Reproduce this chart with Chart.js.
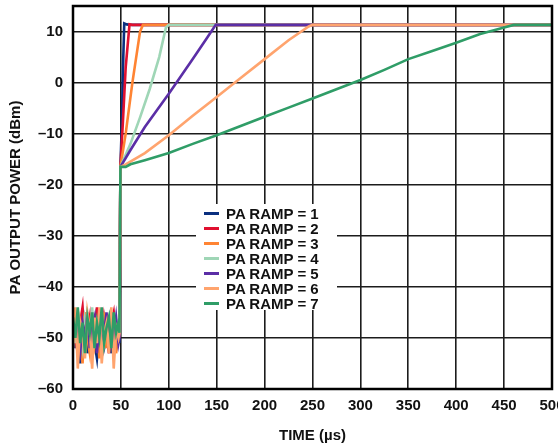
<!DOCTYPE html>
<html lang="en">
<head>
    <meta charset="UTF-8">
    <title>PA output power vs time</title>
    <script src="https://cdn.jsdelivr.net/npm/chart.js@4.4.0/dist/chart.umd.min.js"></script>
    <style>
        body {
            margin: 0;
            background: #fff;
        }

        #wrap {
            position: relative;
            width: 558px;
            height: 443px;
        }

        /* legend sits inside the plot, white box hides the grid behind it */
        #legend {
            position: absolute;
            left: 196px;
            top: 204px;
            width: 141px;
            height: 106px;
            background: #fff;
            font-family: "Liberation Sans", Arial, sans-serif;
            font-weight: bold;
            font-size: 15px;
            color: #111;
        }

        #legend .item {
            position: absolute;
            left: 0;
            height: 15px;
            line-height: 15px;
            white-space: nowrap;
        }

        #legend .swatch {
            position: absolute;
            left: 8px;
            top: 6px;
            width: 15px;
            height: 3.5px;
        }

        #legend .label {
            position: absolute;
            left: 30px;
            top: 0;
        }
    </style>
</head>

<body>
    <div id="wrap">
        <canvas id="myChart" width="558" height="443"></canvas>
        <div id="legend"></div>
    </div>
    <script>
        // noise floor before the PA turns on (time in µs, power in dBm)
        const noiseTime = [0, 2.5, 5, 7.5, 10, 12.5, 15, 17.5, 20, 22.5, 25, 27.5, 30, 32.5, 35, 37.5, 40, 42.5, 45, 47.5, 48.5];

        const ramp1Noise = [-48, -52, -46, -55, -50, -47, -53, -49, -45, -51, -54, -48, -46, -52, -50, -47, -53, -49, -51, -50, -51];
        const ramp2Noise = [-45, -50, -53, -47, -44, -51, -49, -46, -53, -48, -44, -50, -52, -46, -49, -53, -47, -45, -50, -48, -50];
        const ramp3Noise = [-50, -46, -52, -48, -55, -45, -50, -53, -47, -51, -46, -54, -49, -45, -52, -48, -50, -47, -53, -49, -50];
        const ramp4Noise = [-47, -51, -45, -49, -52, -46, -48, -50, -44, -52, -47, -49, -45, -51, -48, -46, -50, -47, -49, -48, -49];
        const ramp5Noise = [-49, -46, -51, -53, -47, -50, -45, -52, -48, -46, -53, -47, -51, -49, -45, -52, -48, -50, -46, -51, -50];
        const ramp6Noise = [-52, -44, -56, -47, -50, -54, -45, -48, -56, -46, -51, -44, -55, -49, -47, -53, -44, -56, -48, -50, -49];
        const ramp7Noise = [-46, -50, -44, -51, -47, -53, -46, -49, -45, -52, -47, -50, -44, -51, -48, -46, -52, -45, -49, -47, -49];

        // ramp-up part of each trace
        const ramp1Time = [49.5, 51, 52.5, 53.5, 56, 60, 500];
        const ramp1Power = [-16.5, -8, 5, 11.6, 11.4, 11.3, 11.3];

        const ramp2Time = [49.5, 52, 55, 59, 62, 500];
        const ramp2Power = [-16.5, -8, 3, 11.4, 11.3, 11.3];

        const ramp3Time = [49.5, 55, 62, 70, 73, 500];
        const ramp3Power = [-16.5, -10, 0, 10, 11.3, 11.3];

        const ramp4Time = [49.5, 60, 70, 80, 90, 97, 100, 500];
        const ramp4Power = [-16.5, -12, -6.8, -1.3, 5, 10.8, 11.3, 11.3];

        const ramp5Time = [49.5, 60, 75, 100, 125, 140, 149, 500];
        const ramp5Power = [-16.5, -13.2, -8.7, -2.2, 4.6, 8.8, 11.3, 11.3];

        const ramp6Time = [49.5, 55, 75, 100, 125, 150, 175, 200, 225, 246, 250, 500];
        const ramp6Power = [-16.5, -16, -13.8, -10.3, -6.5, -2.8, 0.9, 4.6, 8.3, 11, 11.3, 11.3];

        const ramp7Time = [49.5, 55, 60, 75, 100, 125, 150, 175, 200, 225, 250, 275, 300, 325, 350, 375, 400, 425, 450, 460, 500];
        const ramp7Power = [-16.5, -16.5, -16, -15.2, -13.8, -12, -10.3, -8.5, -6.7, -4.9, -3.1, -1.3, 0.5, 2.5, 4.6, 6.2, 7.8, 9.5, 10.8, 11.3, 11.3];

        const seriesLabels = ['PA RAMP = 1', 'PA RAMP = 2', 'PA RAMP = 3', 'PA RAMP = 4', 'PA RAMP = 5', 'PA RAMP = 6', 'PA RAMP = 7'];
        const seriesColors = ['#0a2f7f', '#e0102f', '#ff8433', '#9fd6b6', '#5b2ea6', '#ffa46e', '#2f9d67'];

        const xTicks = [0, 50, 100, 150, 200, 250, 300, 350, 400, 450, 500];
        const yTicks = [-60, -50, -40, -30, -20, -10, 0, 10];

        const noiseSets = [ramp1Noise, ramp2Noise, ramp3Noise, ramp4Noise, ramp5Noise, ramp6Noise, ramp7Noise];
        const rampTimes = [ramp1Time, ramp2Time, ramp3Time, ramp4Time, ramp5Time, ramp6Time, ramp7Time];
        const rampPowers = [ramp1Power, ramp2Power, ramp3Power, ramp4Power, ramp5Power, ramp6Power, ramp7Power];

        function buildPoints(i) {
            let pts = noiseTime.map((t, k) => ({ x: t, y: noiseSets[i][k] }));
            rampTimes[i].forEach((t, k) => pts.push({ x: t, y: rampPowers[i][k] }));
            return pts;
        }

        const datasets = seriesLabels.map((label, i) => ({
            label: label,
            data: buildPoints(i),
            borderColor: seriesColors[i],
            backgroundColor: seriesColors[i],
            borderWidth: 2.6,
            pointRadius: 0,
            tension: 0,
            // ramp 7 is painted last (on top)
            order: 6 - i
        }));

        const fontFamily = '"Liberation Sans", Arial, sans-serif';
        const minusSign = v => String(v).replace('-', '\u2013');

        // thick black frame round the plot area
        const framePlugin = {
            id: 'frame',
            afterDraw(chart) {
                const { ctx, chartArea: a } = chart;
                ctx.save();
                ctx.strokeStyle = '#000';
                ctx.lineWidth = 2.5;
                ctx.strokeRect(a.left, a.top, a.right - a.left, a.bottom - a.top);
                ctx.restore();
            }
        };

        var ctx = document.getElementById('myChart').getContext('2d');
        var myChart = new Chart(ctx, {
            type: 'line',
            data: { datasets: datasets },
            plugins: [framePlugin],
            options: {
                responsive: false,
                animation: false,
                layout: { padding: { top: 6, right: 6, left: 0, bottom: 0 } },
                plugins: {
                    legend: { display: false },
                    tooltip: { enabled: false }
                },
                scales: {
                    x: {
                        type: 'linear',
                        min: 0,
                        max: 500,
                        afterBuildTicks: scale => { scale.ticks = xTicks.map(v => ({ value: v })); },
                        afterFit: scale => {
                            scale.height = 54;
                            scale.paddingLeft = 0;
                            scale.paddingRight = 0;
                        },
                        grid: { color: '#1c1c1c', lineWidth: 1.6, drawTicks: false },
                        border: { display: false },
                        ticks: {
                            padding: 8,
                            maxRotation: 0,
                            color: '#111',
                            font: { family: fontFamily, size: 15, weight: 'bold' }
                        },
                        title: {
                            display: true,
                            text: 'TIME (µs)',
                            color: '#111',
                            padding: { top: 0, bottom: 0 },
                            font: { family: fontFamily, size: 15, weight: 'bold', lineHeight: 1 }
                        }
                    },
                    y: {
                        type: 'linear',
                        min: -60,
                        max: 15,
                        afterBuildTicks: scale => { scale.ticks = yTicks.map(v => ({ value: v })); },
                        afterFit: scale => {
                            scale.width = 73;
                            scale.paddingTop = 0;
                            scale.paddingBottom = 0;
                        },
                        grid: { color: '#1c1c1c', lineWidth: 1.6, drawTicks: false },
                        border: { display: false },
                        ticks: {
                            padding: 10,
                            color: '#111',
                            font: { family: fontFamily, size: 15, weight: 'bold' },
                            callback: v => minusSign(v)
                        },
                        title: {
                            display: true,
                            text: 'PA OUTPUT POWER (dBm)',
                            color: '#111',
                            padding: { top: 8, bottom: 0 },
                            font: { family: fontFamily, size: 15, weight: 'bold', lineHeight: 1 }
                        }
                    }
                }
            }
        });

        // html legend inside the plot
        const legendBox = document.getElementById('legend');
        seriesLabels.forEach((label, i) => {
            let item = document.createElement('div');
            item.className = 'item';
            item.style.top = (1.5 + i * 15) + 'px';
            item.innerHTML = '<span class="swatch" style="background:' + seriesColors[i] + '"></span>' +
                '<span class="label">' + label + '</span>';
            legendBox.appendChild(item);
        });
    </script>
</body>

</html>
